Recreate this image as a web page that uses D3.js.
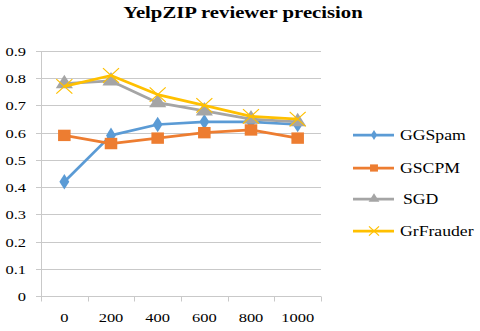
<!DOCTYPE html>
<html>
<head>
<meta charset="utf-8">
<script src="https://cdn.jsdelivr.net/npm/d3@7"></script>
<style>
  body { margin: 0; background: #fff; }
</style>
</head>
<body>
<div id="chart"></div>
<script>
// chart data
const categories = ["0", "200", "400", "600", "800", "1000"];
const seriesNames = ["GGSpam", "GSCPM", "SGD", "GrFrauder"];
const ggspam = [0.42, 0.59, 0.63, 0.64, 0.64, 0.63];
const gscpm = [0.59, 0.56, 0.58, 0.60, 0.61, 0.58];
const sgd = [0.78, 0.79, 0.71, 0.68, 0.65, 0.64];
const grfrauder = [0.77, 0.81, 0.74, 0.70, 0.66, 0.65];
const yTicks = [0, 0.1, 0.2, 0.3, 0.4, 0.5, 0.6, 0.7, 0.8, 0.9];

const colors = ["#5B9BD5", "#ED7D31", "#A5A5A5", "#FFC000"];
const symbols = [d3.symbolDiamond, d3.symbolSquare, d3.symbolTriangle, d3.symbolX];
const FONT = "'Liberation Serif', 'Times New Roman', serif";
const STRETCH = 1.22; // the source picture is a bit wider than tall

const series = seriesNames.map((name, i) => ({
    name: name,
    values: [ggspam, gscpm, sgd, grfrauder][i],
    color: colors[i],
    symbol: symbols[i]
}));

const width = 480, height = 331;
const margin = { top: 51, right: 159, bottom: 35, left: 41 };
const innerW = width - margin.left - margin.right;
const innerH = height - margin.top - margin.bottom;

const svg = d3.select("#chart").append("svg")
    .attr("width", width)
    .attr("height", height)
    .style("font-family", FONT);

// stretched text helper
function addText(sel, x, y, str, size, anchor) {
    return sel.append("text")
        .attr("transform", `translate(${x},${y}) scale(${STRETCH},1)`)
        .attr("text-anchor", anchor || "start")
        .style("font-family", FONT)
        .style("font-size", size + "px")
        .attr("fill", "#000")
        .text(str);
}

// Title
addText(svg, 243, 18, "YelpZIP reviewer precision", 17, "middle")
    .style("font-weight", "bold");

const g = svg.append("g")
    .attr("transform", `translate(${margin.left},${margin.top})`);

const x = d3.scaleBand().domain(categories).range([0, innerW]);
const y = d3.scaleLinear().domain([0, 0.9]).range([innerH, 0]);

// Grid lines + outer tick marks
g.append("g")
    .selectAll("line")
    .data(yTicks)
    .join("line")
    .attr("x1", -5)
    .attr("x2", d => d > 0 ? innerW : 0)
    .attr("y1", d => Math.round(y(d)) + 0.5)
    .attr("y2", d => Math.round(y(d)) + 0.5)
    .attr("stroke", "#C9C9C9")
    .attr("stroke-width", 1);

// Y axis line
g.append("line")
    .attr("x1", 0.5).attr("x2", 0.5)
    .attr("y1", 0).attr("y2", innerH)
    .attr("stroke", "#C9C9C9");

// Y labels
yTicks.forEach(t => {
    addText(g, -15, y(t) + 5, t === 0 ? "0" : d3.format(".1f")(t), 13.5, "end");
});

// X axis with ticks between categories
const xAxis = g.append("g").attr("transform", `translate(0,${Math.round(innerH) + 0.5})`);
xAxis.append("line")
    .attr("x1", 0).attr("x2", innerW)
    .attr("stroke", "#C9C9C9");
xAxis.selectAll(".sep")
    .data(d3.range(categories.length + 1))
    .join("line")
    .attr("class", "sep")
    .attr("x1", i => Math.round(i * x.bandwidth()) + 0.5)
    .attr("x2", i => Math.round(i * x.bandwidth()) + 0.5)
    .attr("y1", 0).attr("y2", 5)
    .attr("stroke", "#C9C9C9");
categories.forEach(c => {
    addText(xAxis, x(c) + x.bandwidth() / 2, 25, c, 13.5, "middle");
});

// Lines
const line = d3.line()
    .x((d, i) => x(categories[i]) + x.bandwidth() / 2)
    .y(d => y(d));

const sg = g.selectAll(".series")
    .data(series)
    .join("g")
    .attr("class", "series");

sg.append("path")
    .attr("d", d => line(d.values))
    .attr("fill", "none")
    .attr("stroke", d => d.color)
    .attr("stroke-width", 2.75)
    .attr("stroke-linejoin", "round");

function markerSize(sym) {
    if (sym === d3.symbolDiamond) return 70;
    if (sym === d3.symbolSquare) return 130;
    if (sym === d3.symbolTriangle) return 105;
    return 140;
}

sg.each(function(s) {
    d3.select(this).selectAll("path.mk")
        .data(s.values)
        .join("path")
        .attr("class", "mk")
        .attr("transform", (d, i) => `translate(${x(categories[i]) + x.bandwidth() / 2},${y(d)}) scale(1.1,1)`)
        .attr("d", d3.symbol().type(s.symbol).size(markerSize(s.symbol)))
        .attr("fill", s.symbol === d3.symbolX ? "none" : s.color)
        .attr("stroke", s.color)
        .attr("stroke-width", s.symbol === d3.symbolX ? 1.1 : 0);
});

// Legend
const legend = svg.append("g").attr("transform", "translate(353,0)");
const legendY = [135, 168, 199, 231];
const le = legend.selectAll(".legend-entry")
    .data(series)
    .join("g")
    .attr("class", "legend-entry")
    .attr("transform", (d, i) => `translate(0,${legendY[i]})`);

le.append("line")
    .attr("x1", 0).attr("x2", 41)
    .attr("stroke", d => d.color)
    .attr("stroke-width", 2.75);

le.append("path")
    .attr("transform", "translate(21,0) scale(1.1,1)")
    .attr("d", d => d3.symbol().type(d.symbol).size(markerSize(d.symbol) * 0.4)())
    .attr("fill", d => d.symbol === d3.symbolX ? "none" : d.color)
    .attr("stroke", d => d.color)
    .attr("stroke-width", d => d.symbol === d3.symbolX ? 1.1 : 0);

le.each(function(d) {
    addText(d3.select(this), d.name === "SGD" ? 50 : 47, 5, d.name, 14.5, "start");
});
</script>
</body>
</html>
